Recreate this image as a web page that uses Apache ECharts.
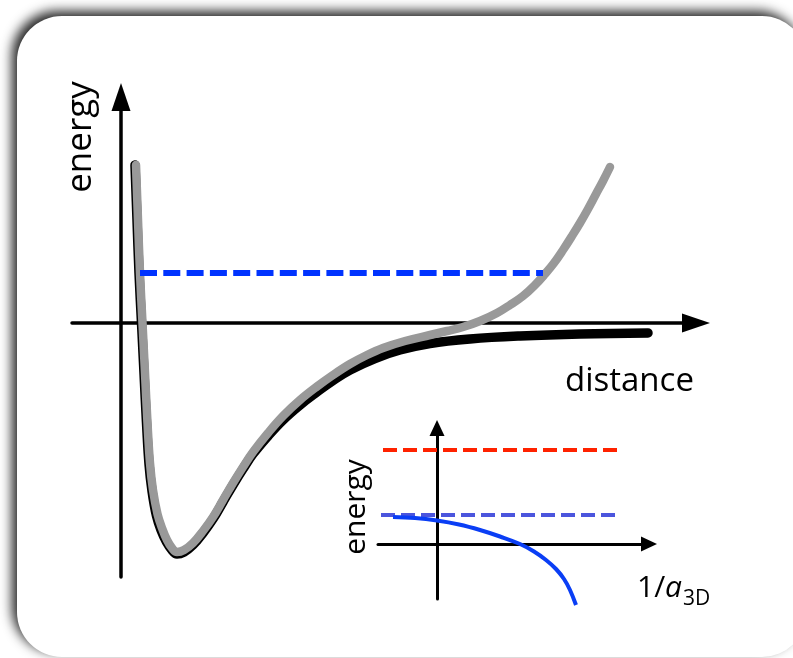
<!DOCTYPE html>
<html>
<head>
<meta charset="utf-8">
<script src="https://cdn.jsdelivr.net/npm/echarts@6/dist/echarts.min.js"></script>
<style>
html,body{margin:0;padding:0;background:#fff;}
#c{width:793px;height:658px;}
</style>
</head>
<body>
<div id="c"></div>
<script>
// ---- main panel: potential curves (distance, energy) ----
var grayCurve = [
  [0.150,1.58],[0.170,1.03],[0.190,0.50],[0.215,0.00],[0.240,-0.50],[0.265,-1.00],
  [0.290,-1.40],[0.320,-1.67],[0.365,-1.91],[0.410,-2.05],[0.460,-2.17],[0.510,-2.25],
  [0.560,-2.29],[0.630,-2.27],[0.720,-2.20],[0.820,-2.08],[0.920,-1.94],[1.020,-1.77],
  [1.120,-1.60],[1.220,-1.44],[1.320,-1.29],[1.470,-1.10],[1.620,-0.93],[1.790,-0.77],
  [1.960,-0.635],[2.120,-0.52],[2.290,-0.41],[2.450,-0.325],[2.620,-0.25],[2.840,-0.18],
  [3.090,-0.12],[3.260,-0.08],[3.420,-0.04],[3.590,0.02],[3.760,0.10],[3.890,0.18],
  [4.020,0.27],[4.140,0.38],[4.240,0.49],[4.330,0.60],[4.420,0.73],[4.510,0.87],
  [4.590,1.00],[4.670,1.14],[4.750,1.29],[4.820,1.42],[4.890,1.56]
];
var blackCurve = [
  [0.140,1.58],[0.160,1.03],[0.180,0.50],[0.205,0.00],[0.230,-0.50],[0.255,-1.00],
  [0.280,-1.41],[0.310,-1.68],[0.355,-1.93],[0.400,-2.07],[0.455,-2.19],[0.510,-2.27],
  [0.560,-2.31],[0.630,-2.29],[0.720,-2.22],[0.820,-2.10],[0.920,-1.96],[1.020,-1.79],
  [1.120,-1.62],[1.220,-1.46],[1.320,-1.31],[1.470,-1.13],[1.620,-0.97],[1.790,-0.82],
  [1.960,-0.69],[2.120,-0.575],[2.290,-0.47],[2.540,-0.355],[2.790,-0.27],[3.090,-0.205],
  [3.490,-0.16],[3.990,-0.13],[4.590,-0.11],[5.270,-0.10]
];
var mainLevelX = [0.19, 4.22];
var mainLevelY = 0.50;

// ---- inset: energy vs 1/a3D ----
var insetUpperX = [-0.54, 1.86];
var insetUpperY = 0.94;
var insetLowerX = [-0.56, 1.84];
var insetLowerY = 0.29;
var insetCurve = [
  [-0.44,0.27],[-0.22,0.26],[0.00,0.235],[0.22,0.195],[0.43,0.14],[0.63,0.075],
  [0.83,0.00],[0.97,-0.075],[1.09,-0.16],[1.19,-0.25],[1.27,-0.35],[1.33,-0.46],[1.39,-0.61]
];

var FONT = '"Open Sans", "Noto Sans", sans-serif';

function hiddenAxisBits(o){
  o.axisTick = {show:false};
  o.axisLabel = {show:false};
  o.splitLine = {show:false};
  return o;
}

var chart = echarts.init(document.getElementById('c'), null, {renderer:'canvas'});
var option = {
  backgroundColor: '#ffffff',
  animation: false,
  grid: [
    {left:72, top:97, right:97, bottom:81},
    {left:378, top:428, right:144, bottom:59}
  ],
  xAxis: [
    hiddenAxisBits({type:'value', gridIndex:0, min:-0.49, max:5.75,
      axisLine:{onZero:true, symbol:['none','triangle'], symbolSize:[19,28],
        lineStyle:{color:'#000', width:3.5}}}),
    hiddenAxisBits({type:'value', gridIndex:1, min:-0.59, max:2.12,
      axisLine:{onZero:true, symbol:['none','triangle'], symbolSize:[15,16],
        lineStyle:{color:'#000', width:3}}})
  ],
  yAxis: [
    hiddenAxisBits({type:'value', gridIndex:0, min:-2.54, max:2.26,
      axisLine:{onZero:true, symbol:['none','triangle'], symbolSize:[19,28],
        lineStyle:{color:'#000', width:3.5}}}),
    hiddenAxisBits({type:'value', gridIndex:1, min:-0.55, max:1.16,
      axisLine:{onZero:true, symbol:['none','triangle'], symbolSize:[15,16],
        lineStyle:{color:'#000', width:3}}})
  ],
  series: [
    {type:'line', xAxisIndex:0, yAxisIndex:0, data:blackCurve, smooth:0.4,
      showSymbol:false, clip:false, lineStyle:{color:'#000', width:9.5, cap:'round', join:'round'}},
    {type:'line', xAxisIndex:0, yAxisIndex:0, data:grayCurve, smooth:0.4,
      showSymbol:false, clip:false, lineStyle:{color:'#999999', width:8.5, cap:'round', join:'round'}},
    {type:'line', xAxisIndex:0, yAxisIndex:0,
      data:[[mainLevelX[0],mainLevelY],[mainLevelX[1],mainLevelY]], showSymbol:false,
      lineStyle:{color:'#0033ff', width:6, type:[17,6.3]}},
    {type:'line', xAxisIndex:1, yAxisIndex:1,
      data:[[insetUpperX[0],insetUpperY],[insetUpperX[1],insetUpperY]], showSymbol:false,
      lineStyle:{color:'#ff2200', width:4, type:[14,6]}},
    {type:'line', xAxisIndex:1, yAxisIndex:1,
      data:[[insetLowerX[0],insetLowerY],[insetLowerX[1],insetLowerY]], showSymbol:false,
      lineStyle:{color:'#4b55dd', width:4, type:[14,6]}},
    {type:'line', xAxisIndex:1, yAxisIndex:1, data:insetCurve, smooth:0.4,
      showSymbol:false, clip:false, lineStyle:{color:'#0a3ef5', width:4, cap:'butt'}}
  ],
  graphic: [
    {type:'rect', z:-10, silent:true,
      shape:{x:17, y:16, width:790, height:641, r:45},
      style:{fill:'#ffffff', shadowBlur:12, shadowColor:'rgba(0,0,0,0.85)', shadowOffsetX:-5, shadowOffsetY:-5}},
    {type:'text', z:100, x:81, y:137, rotation:Math.PI/2,
      style:{text:'energy', font:'35px ' + FONT, fill:'#000', textAlign:'center', textVerticalAlign:'middle'}},
    {type:'text', z:100, x:565, y:382,
      style:{text:'distance', font:'33px ' + FONT, fill:'#000', textAlign:'left', textVerticalAlign:'middle'}},
    {type:'text', z:100, x:356, y:507, rotation:Math.PI/2,
      style:{text:'energy', font:'30px ' + FONT, fill:'#000', textAlign:'center', textVerticalAlign:'middle'}},
    {type:'text', z:100, x:637, y:588,
      style:{text:'1/', font:'30px ' + FONT, fill:'#000', textAlign:'left', textVerticalAlign:'middle'}},
    {type:'text', z:100, x:665, y:588,
      style:{text:'a', font:'italic 30px ' + FONT, fill:'#000', textAlign:'left', textVerticalAlign:'middle'}},
    {type:'text', z:100, x:683, y:599,
      style:{text:'3D', font:'21px ' + FONT, fill:'#000', textAlign:'left', textVerticalAlign:'middle'}}
  ]
};
chart.setOption(option);
</script>
</body>
</html>
